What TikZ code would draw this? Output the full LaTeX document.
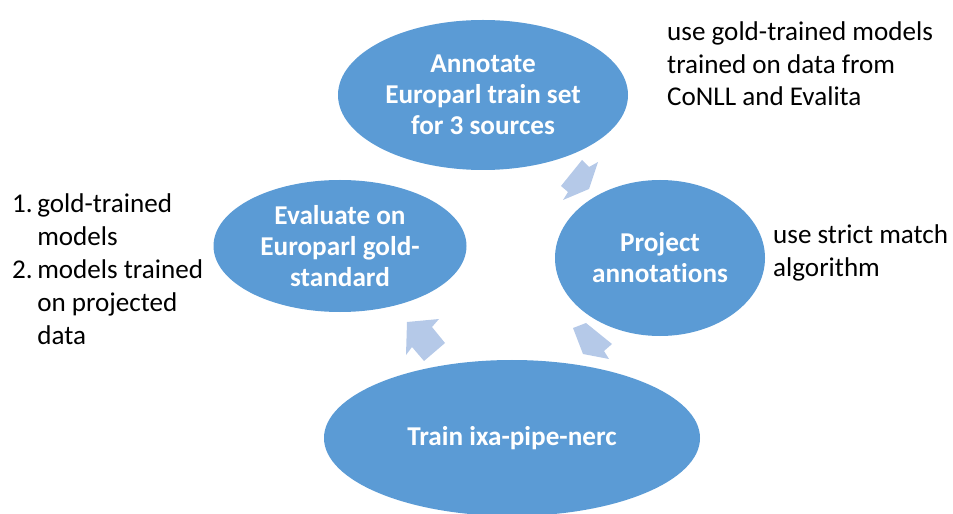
\documentclass[tikz,border=0pt]{standalone}
\usepackage{fontspec}
\setmainfont{Carlito}[Ligatures={NoCommon}]
\usetikzlibrary{shapes.geometric}
\definecolor{cycleblue}{HTML}{5B9BD5}
\definecolor{turnblue}{HTML}{B5C9E8}

\begin{document}
\begin{tikzpicture}[x=1bp,y=-1bp,
    stage/.style={ellipse,fill=cycleblue,inner sep=0pt,text=white,align=center,
      font=\fontsize{27.3}{31}\selectfont\bfseries},
    note/.style={anchor=west,inner sep=0pt,align=left,
      font=\fontsize{27.2}{32.6}\selectfont},
    turn/.style={fill=turnblue}]
    \useasboundingbox (0,0) rectangle (953,514);
    \clip (0,0) rectangle (953,514);

    % block arrows between the stages
    \fill[turn] (582,160) -- (589,167) -- (598,162) -- (589,189) -- (563,200) -- (568,192) -- (561,186) -- cycle;
    \fill[turn] (573,328) -- (586,323) -- (612,344) -- (604,351) -- (609,359) -- (583,354) -- cycle;
    \fill[turn] (407,322) -- (439,319) -- (432,327) -- (445,343) -- (424,361) -- (412,347) -- (406,355) -- cycle;

    \node[stage,minimum width=290bp,minimum height=150bp] (annotate) at (483,95) {Annotate\\Europarl train set\\for 3 sources};
    \node[stage,minimum width=210bp,minimum height=156bp] (project) at (660,258) {Project\\annotations};
    \node[stage,minimum width=376bp,minimum height=156bp] (train) at (512,438) {Train ixa-pipe-nerc};
    \node[stage,minimum width=253bp,minimum height=132bp] (evaluate) at (340,246) {Evaluate on\\Europarl gold-\\standard};

    \node[note] (goldnote) at (667,64) {use gold-trained models\\trained on data from\\CoNLL and Evalita};
    \node[note] (matchnote) at (773,253) {use strict match\\algorithm};
    \node[note] (modelnote) at (12,272) {\renewcommand{\arraystretch}{1.018}%
      \begin{tabular}{@{}l@{\,}l@{}}
        1. & gold-trained\\
           & models\\
        2. & models trained\\
           & on projected\\
           & data
      \end{tabular}};
\end{tikzpicture}
\end{document}
